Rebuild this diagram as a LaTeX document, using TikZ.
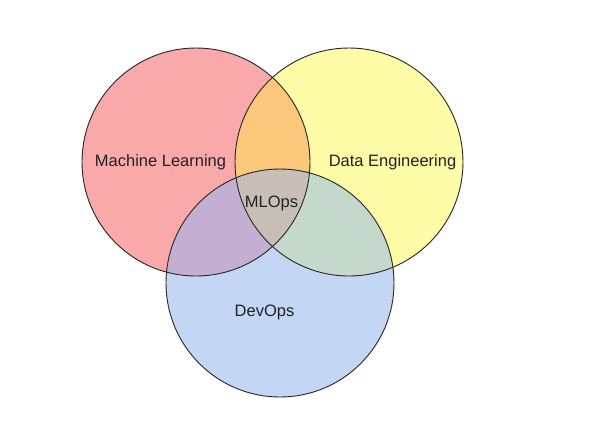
\documentclass[tikz,border=0pt]{standalone}
\usepackage{fontspec}
\setmainfont{Liberation Sans}
\definecolor{cred}{HTML}{F9A9A9}
\definecolor{cyel}{HTML}{FFFCA8}
\definecolor{cblu}{HTML}{C3D7F5}
\definecolor{cry}{HTML}{FBC77B}
\definecolor{crb}{HTML}{C4AED2}
\definecolor{cyb}{HTML}{C4D8CC}
\definecolor{call}{HTML}{C7BFB6}
\definecolor{ctext}{HTML}{222222}
\tikzset{
  lbl/.style={font=\fontsize{16.5}{18}\selectfont, text=ctext, inner sep=0pt},
  rim/.style={draw=black!85, line width=0.9pt}
}
\begin{document}
\begin{tikzpicture}[x=1pt,y=-1pt]
\useasboundingbox[fill=white] (0,0) rectangle (594,432);
\coordinate (R) at (196,162);
\coordinate (Y) at (349,162);
\coordinate (B) at (280,283);
\def\rr{114}
\fill[cred] (R) circle (\rr);
\fill[cyel] (Y) circle (\rr);
\fill[cblu] (B) circle (\rr);
\begin{scope}
  \clip (R) circle (\rr);
  \fill[cry] (Y) circle (\rr);
  \fill[crb] (B) circle (\rr);
\end{scope}
\begin{scope}
  \clip (Y) circle (\rr);
  \clip (B) circle (\rr);
  \fill[cyb] (Y) circle (\rr);
  \clip (R) circle (\rr);
  \fill[call] (B) circle (\rr);
\end{scope}
\draw[rim] (R) circle (\rr);
\draw[rim] (Y) circle (\rr);
\draw[rim] (B) circle (\rr);
\node[lbl] (ml) at (160.5,162) {Machine Learning};
\node[lbl] (de) at (392.5,162) {Data Engineering};
\node[lbl] (mlops) at (271.5,203) {MLOps};
\node[lbl] (devops) at (264.5,312.5) {DevOps};
\end{tikzpicture}
\end{document}
